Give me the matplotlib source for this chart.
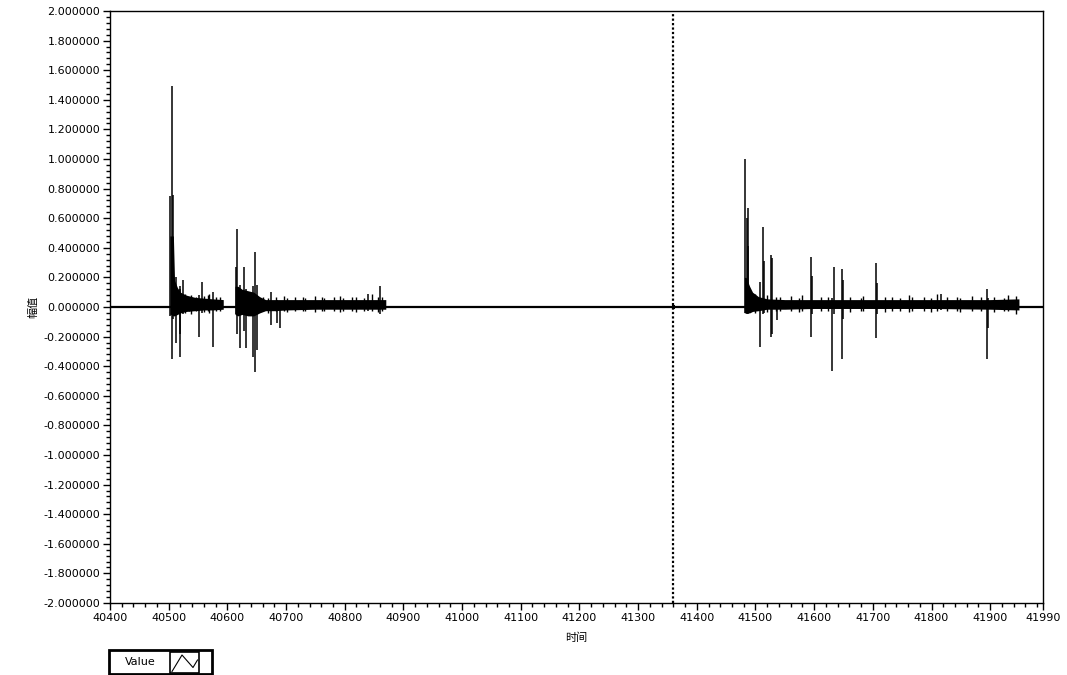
import matplotlib
matplotlib.use("Agg")
import matplotlib.pyplot as plt
from matplotlib.patches import Rectangle
from matplotlib.lines import Line2D
import numpy as np

plt.rcParams['font.family'] = ['DejaVu Sans']
cjk = ['Noto Sans CJK SC', 'DejaVu Sans']

# x range of the waveform graph and the cursor position
x_min, x_max = 40400, 41990
cursor_x = 41360

# quiet signal (rests at zero)
baseline_x = [40400, 41990]
baseline_y = [0.0, 0.0]

# noise envelopes of the three bursts
burst1_x = [40502, 40504, 40508, 40510, 40515, 40520, 40530, 40545, 40560, 40575, 40593]
burst1_hi = [0.48, 0.48, 0.48, 0.18, 0.13, 0.10, 0.08, 0.065, 0.06, 0.055, 0.05]
burst1_lo = [-0.05, -0.05, -0.06, -0.06, -0.05, -0.04, -0.03, -0.025, -0.02, -0.02, -0.015]

burst2_x = [40613, 40618, 40625, 40635, 40645, 40655, 40665, 40680, 40700, 40750, 40800, 40850, 40870]
burst2_hi = [0.14, 0.14, 0.12, 0.11, 0.10, 0.07, 0.05, 0.05, 0.05, 0.05, 0.05, 0.05, 0.05]
burst2_lo = [-0.05, -0.06, -0.05, -0.06, -0.06, -0.04, -0.025, -0.025, -0.02, -0.015, -0.015, -0.015, -0.015]

burst3_x = [41481, 41484, 41490, 41495, 41505, 41520, 41550, 41600, 41700, 41800, 41900, 41949]
burst3_hi = [0.20, 0.20, 0.14, 0.10, 0.07, 0.055, 0.05, 0.05, 0.05, 0.05, 0.05, 0.055]
burst3_lo = [-0.04, -0.04, -0.04, -0.03, -0.025, -0.015, -0.015, -0.01, -0.01, -0.01, -0.015, -0.02]

blip_x = [41357, 41363]
blip_hi = [0.015, 0.015]
blip_lo = [-0.015, -0.015]

# individual spikes: position, top, bottom
spike_x = [40503, 40505, 40507, 40512, 40519, 40520, 40524, 40552, 40556, 40575,
           40614, 40616, 40622, 40629, 40631, 40644, 40647, 40651, 40674, 40685, 40690,
           40840, 40860,
           41483, 41485, 41487, 41488, 41507, 41512, 41514, 41527, 41528, 41536,
           41594, 41596, 41631, 41634, 41648, 41650, 41705, 41707, 41816, 41895, 41897]
spike_top = [0.75, 1.49, 0.76, 0.20, 0.14, 0.12, 0.18, 0.08, 0.17, 0.10,
             0.27, 0.53, 0.15, 0.27, 0.12, 0.14, 0.37, 0.15, 0.10, 0.05, 0.04,
             0.09, 0.14,
             1.00, 0.60, 0.67, 0.41, 0.17, 0.54, 0.31, 0.35, 0.33, 0.05,
             0.34, 0.21, 0.06, 0.27, 0.26, 0.18, 0.30, 0.16, 0.09, 0.12, 0.06]
spike_bot = [-0.06, -0.35, -0.08, -0.24, -0.18, -0.34, -0.05, -0.20, -0.04, -0.27,
             -0.05, -0.18, -0.28, -0.16, -0.28, -0.34, -0.44, -0.29, -0.12, -0.11, -0.14,
             -0.03, -0.05,
             -0.04, -0.05, -0.05, -0.04, -0.27, -0.05, -0.04, -0.20, -0.18, -0.09,
             -0.20, -0.05, -0.43, -0.05, -0.35, -0.08, -0.21, -0.05, -0.02, -0.35, -0.14]

# small ragged peaks along the noise bands
rag_x = [40527, 40535, 40538, 40546, 40561, 40567, 40569, 40581, 40588,
         40661, 40670, 40683, 40697, 40701, 40716, 40729, 40733, 40749, 40761, 40764,
         40781, 40792, 40797, 40812, 40820, 40833, 40846, 40857, 40864,
         41499, 41519, 41535, 41541, 41561, 41574, 41579, 41611, 41623, 41661, 41679,
         41684, 41721, 41733, 41747, 41762, 41766, 41788, 41799, 41809, 41827, 41843,
         41849, 41869, 41884, 41906, 41923, 41931, 41944]
rag_top = [0.085, 0.07, 0.08, 0.065, 0.075, 0.08, 0.09, 0.065, 0.07,
           0.065, 0.06, 0.07, 0.075, 0.06, 0.065, 0.07, 0.06, 0.075, 0.065, 0.06,
           0.07, 0.075, 0.06, 0.065, 0.07, 0.06, 0.085, 0.065, 0.07,
           0.09, 0.08, 0.07, 0.065, 0.075, 0.06, 0.08, 0.07, 0.065, 0.07, 0.06,
           0.075, 0.065, 0.07, 0.06, 0.08, 0.065, 0.07, 0.06, 0.085, 0.065, 0.07,
           0.06, 0.075, 0.065, 0.07, 0.06, 0.08, 0.075]
rag_bot = [-0.04, -0.03, -0.045, -0.03, -0.035, -0.025, -0.04, -0.03, -0.025,
           -0.03, -0.04, -0.025, -0.03, -0.035, -0.025, -0.03, -0.025, -0.035, -0.025, -0.03,
           -0.025, -0.035, -0.03, -0.025, -0.035, -0.025, -0.03, -0.035, -0.03,
           -0.04, -0.035, -0.025, -0.03, -0.025, -0.035, -0.025, -0.03, -0.025, -0.035, -0.025,
           -0.03, -0.035, -0.025, -0.025, -0.035, -0.03, -0.025, -0.035, -0.025, -0.03, -0.025,
           -0.035, -0.025, -0.03, -0.035, -0.025, -0.03, -0.045]

y_ticks = np.round(np.arange(-2.0, 2.0001, 0.2), 1)
x_ticks = [40400, 40500, 40600, 40700, 40800, 40900, 41000, 41100, 41200,
           41300, 41400, 41500, 41600, 41700, 41800, 41900, 41990]

W, H = 1067, 675
fig = plt.figure(figsize=(W / 100, H / 100), dpi=100)
ax = fig.add_axes([110 / W, (H - 603) / H, 933 / W, 592 / H])

ax.plot(baseline_x, baseline_y, color="black", lw=1.6, solid_capstyle="butt")
for bx, bh, bl in [(burst1_x, burst1_hi, burst1_lo), (burst2_x, burst2_hi, burst2_lo),
                   (burst3_x, burst3_hi, burst3_lo), (blip_x, blip_hi, blip_lo)]:
    ax.fill_between(bx, bl, bh, color="black", lw=0)
ax.vlines(rag_x, rag_bot, rag_top, color="black", lw=1.0)
ax.vlines(spike_x, spike_bot, spike_top, color="black", lw=1.1)

ax.axvline(cursor_x, color="black", lw=1.6, linestyle=(0, (1, 1)))

ax.set_xlim(x_min, x_max)
ax.set_ylim(-2.0, 2.0)
ax.set_xticks(x_ticks)
ax.set_xticklabels([str(t) for t in x_ticks])
ax.set_xticks(np.arange(40420, 41990, 20), minor=True)
ax.set_yticks(y_ticks)
ax.set_yticklabels(["%.6f" % (t + 0.0) for t in y_ticks])
ax.set_yticks(np.arange(-1.96, 2.0, 0.04), minor=True)
ax.tick_params(which="major", length=5, width=1, labelsize=8, color="black", pad=2)
ax.tick_params(which="minor", length=3, width=1)
for s in ax.spines.values():
    s.set_linewidth(1)

ax.set_xlabel("时间", family=cjk, fontsize=8, labelpad=7)
ax.set_ylabel("幅值", family=cjk, fontsize=8, labelpad=4)

# legend box at the bottom
def fx(px):
    return px / W

def fy(py):
    return 1 - py / H

fig.patches.append(Rectangle((fx(109), fy(674)), fx(212) - fx(109), fy(650) - fy(674),
                             transform=fig.transFigure, fill=False, lw=2, edgecolor="black"))
fig.patches.append(Rectangle((fx(170), fy(673)), fx(199) - fx(170), fy(652) - fy(673),
                             transform=fig.transFigure, fill=False, lw=1.2, edgecolor="black"))
fig.lines.append(Line2D([fx(172), fx(182), fx(193), fx(197.5)],
                        [fy(671.5), fy(655), fy(667.5), fy(660)],
                        transform=fig.transFigure, color="black", lw=0.8))
fig.text(fx(140), fy(662), "Value", fontsize=8, ha="center", va="center")

fig.savefig("out.png", dpi=100)
